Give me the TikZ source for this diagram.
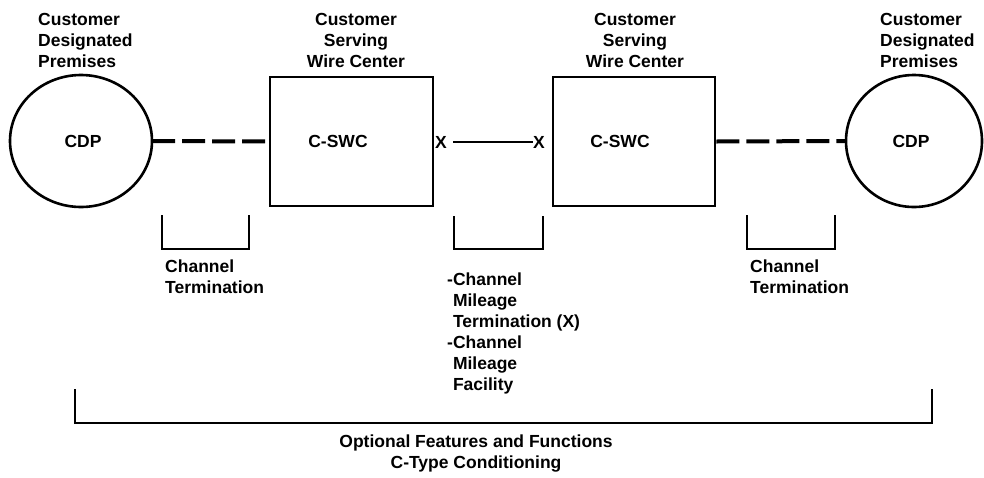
\documentclass[tikz,border=0pt]{standalone}
\usepackage{fontspec}
\setmainfont{Liberation Sans}
\begin{document}
\begin{tikzpicture}[x=1pt,y=-1pt,
  lbl/.style={font=\fontsize{17.5}{21}\selectfont\bfseries, inner sep=0pt},
  shapeline/.style={line width=2.6pt},
  dashline/.style={line width=4pt, dash pattern=on 23pt off 7pt},
  bracketline/.style={line width=2.6pt},
  thinline/.style={line width=2pt}]
\useasboundingbox (0,0) rectangle (984,477);

% circles and boxes
\draw[shapeline] (81,141) ellipse [x radius=71, y radius=66];
\node[inner sep=0, minimum width=142pt, minimum height=132pt] (cdpL) at (81,141) {};
\draw[shapeline] (914,141) ellipse [x radius=68, y radius=66];
\node[inner sep=0, minimum width=136pt, minimum height=132pt] (cdpR) at (914,141) {};
\node[draw, shapeline, inner sep=0, minimum width=163pt, minimum height=129pt] (swcL) at (351.5,141.5) {};
\node[draw, shapeline, inner sep=0, minimum width=162pt, minimum height=129pt] (swcR) at (634,141.5) {};

% inner labels
\node[lbl] (cdpLt) at (83,141) {CDP};
\node[lbl] (cdpRt) at (911,141) {CDP};
\node[lbl] (swcLt) at (338,141) {C-SWC};
\node[lbl] (swcRt) at (620,141) {C-SWC};

% connectors
\draw[dashline] (cdpL.east) -- (swcL.west);
\draw[dashline] (swcR.east) -- (cdpR.west);
\node[lbl] (xl) at (441,142) {X};
\node[lbl] (xr) at (539,142) {X};
\draw[thinline] ([xshift=6pt]xl.east) -- (xr.west);

% top labels
\node[lbl, align=left, anchor=north west] (tl) at (38,13) {Customer\\Designated\\Premises};
\node[lbl, align=center, anchor=north] (tm1) at (356,13) {Customer\\Serving\\Wire Center};
\node[lbl, align=center, anchor=north] (tm2) at (635,13) {Customer\\Serving\\Wire Center};
\node[lbl, align=left, anchor=north west] (tr) at (880,13) {Customer\\Designated\\Premises};

% brackets
\coordinate (b1a) at (162,215); \coordinate (b1b) at (249,215);
\draw[bracketline] (b1a) |- (b1b |- 0,249) -- (b1b);
\coordinate (b2a) at (454,216); \coordinate (b2b) at (543,216);
\draw[bracketline] (b2a) |- (b2b |- 0,249) -- (b2b);
\coordinate (b3a) at (747,215); \coordinate (b3b) at (835,215);
\draw[bracketline] (b3a) |- (b3b |- 0,249) -- (b3b);
\coordinate (b4a) at (75,389); \coordinate (b4b) at (932,389);
\draw[bracketline] (b4a) |- (b4b |- 0,423) -- (b4b);

% bracket labels
\node[lbl, align=left, anchor=north west] (ct1) at (165,260) {Channel\\Termination};
\node[lbl, align=left, anchor=north west] (ct3) at (750,260) {Channel\\Termination};
\node[lbl, align=left, anchor=north west] (cm) at (447,273) {-Channel\\\phantom{-}Mileage\\\phantom{-}Termination (X)\\-Channel\\\phantom{-}Mileage\\\phantom{-}Facility};
\node[lbl, align=center, anchor=north] (opt) at (476,435) {Optional Features and Functions\\C-Type Conditioning};
\end{tikzpicture}
\end{document}
